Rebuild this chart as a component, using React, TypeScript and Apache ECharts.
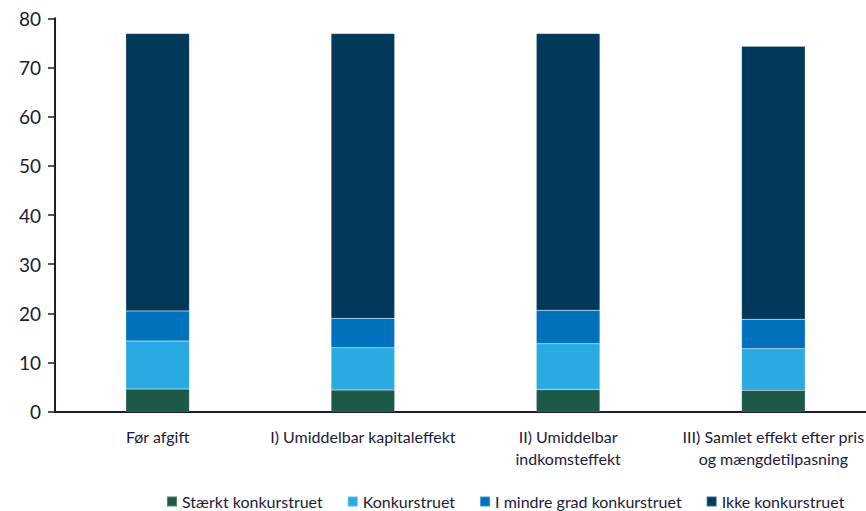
import React, { useEffect, useRef } from "react";
import * as echarts from "echarts";

const categories = [
  "Før afgift",
  "I) Umiddelbar kapitaleffekt",
  "II) Umiddelbar\nindkomsteffekt",
  "III) Samlet effekt efter pris\nog mængdetilpasning",
];
const seriesNames = [
  "Stærkt konkurstruet",
  "Konkurstruet",
  "I mindre grad konkurstruet",
  "Ikke konkurstruet",
];
const staerkt = [4.6, 4.4, 4.5, 4.35];
const konkurstruet = [9.8, 8.6, 9.3, 8.45];
const mindre = [6.1, 6.0, 6.85, 6.0];
const ikke = [56.4, 57.9, 56.25, 55.5];
const yTicks = [0, 10, 20, 30, 40, 50, 60, 70, 80];

const colors = ["#1c5946", "#29aae1", "#0071bc", "#02395b"];
const FONT = "Lato";
const TEXT = "#1a1a3a";

export default function App() {
  const ref = useRef<HTMLDivElement>(null);
  useEffect(() => {
    if (!ref.current) return;
    const chart = echarts.init(ref.current, undefined, { renderer: "svg" });
    const values = [staerkt, konkurstruet, mindre, ikke];
    chart.setOption({
      animation: false,
      textStyle: { fontFamily: FONT },
      grid: { left: 55, right: 0, top: 18.3, bottom: 99.3, containLabel: false },
      legend: {
        data: seriesNames,
        left: 161,
        bottom: -3.5,
        itemWidth: 10,
        itemHeight: 10,
        itemGap: 24,
        icon: "rect",
        textStyle: { fontFamily: FONT, fontSize: 16, color: TEXT },
      },
      xAxis: {
        type: "category",
        data: categories,
        axisLine: { show: true, lineStyle: { color: "#1a1a3a", width: 2 } },
        axisTick: { show: false },
        axisLabel: {
          interval: 0,
          fontFamily: FONT,
          fontSize: 16,
          color: TEXT,
          lineHeight: 22,
          margin: 14,
        },
      },
      yAxis: {
        type: "value",
        min: yTicks[0],
        max: yTicks[yTicks.length - 1],
        interval: 10,
        splitLine: { show: false },
        axisLine: { show: true, lineStyle: { color: "#1a1a3a", width: 2 } },
        axisTick: { show: true, length: 7, lineStyle: { color: "#1a1a3a", width: 1.5 } },
        axisLabel: { fontFamily: FONT, fontSize: 19, color: TEXT, margin: 14 },
      },
      series: seriesNames.map((name, i) => ({
        name,
        type: "bar",
        stack: "total",
        data: values[i],
        barWidth: "31%",
        itemStyle: {
          color: colors[i],
          borderColor: "rgba(255,255,255,0.25)",
          borderWidth: 0.5,
        },
      })),
    });
    return () => chart.dispose();
  }, []);
  return (
    <div
      style={{
        position: "fixed",
        left: 0,
        top: 0,
        width: 866,
        height: 511,
        overflow: "hidden",
        background: "#fff",
      }}
    >
      <div ref={ref} style={{ width: 876, height: 511 }} />
    </div>
  );
}
